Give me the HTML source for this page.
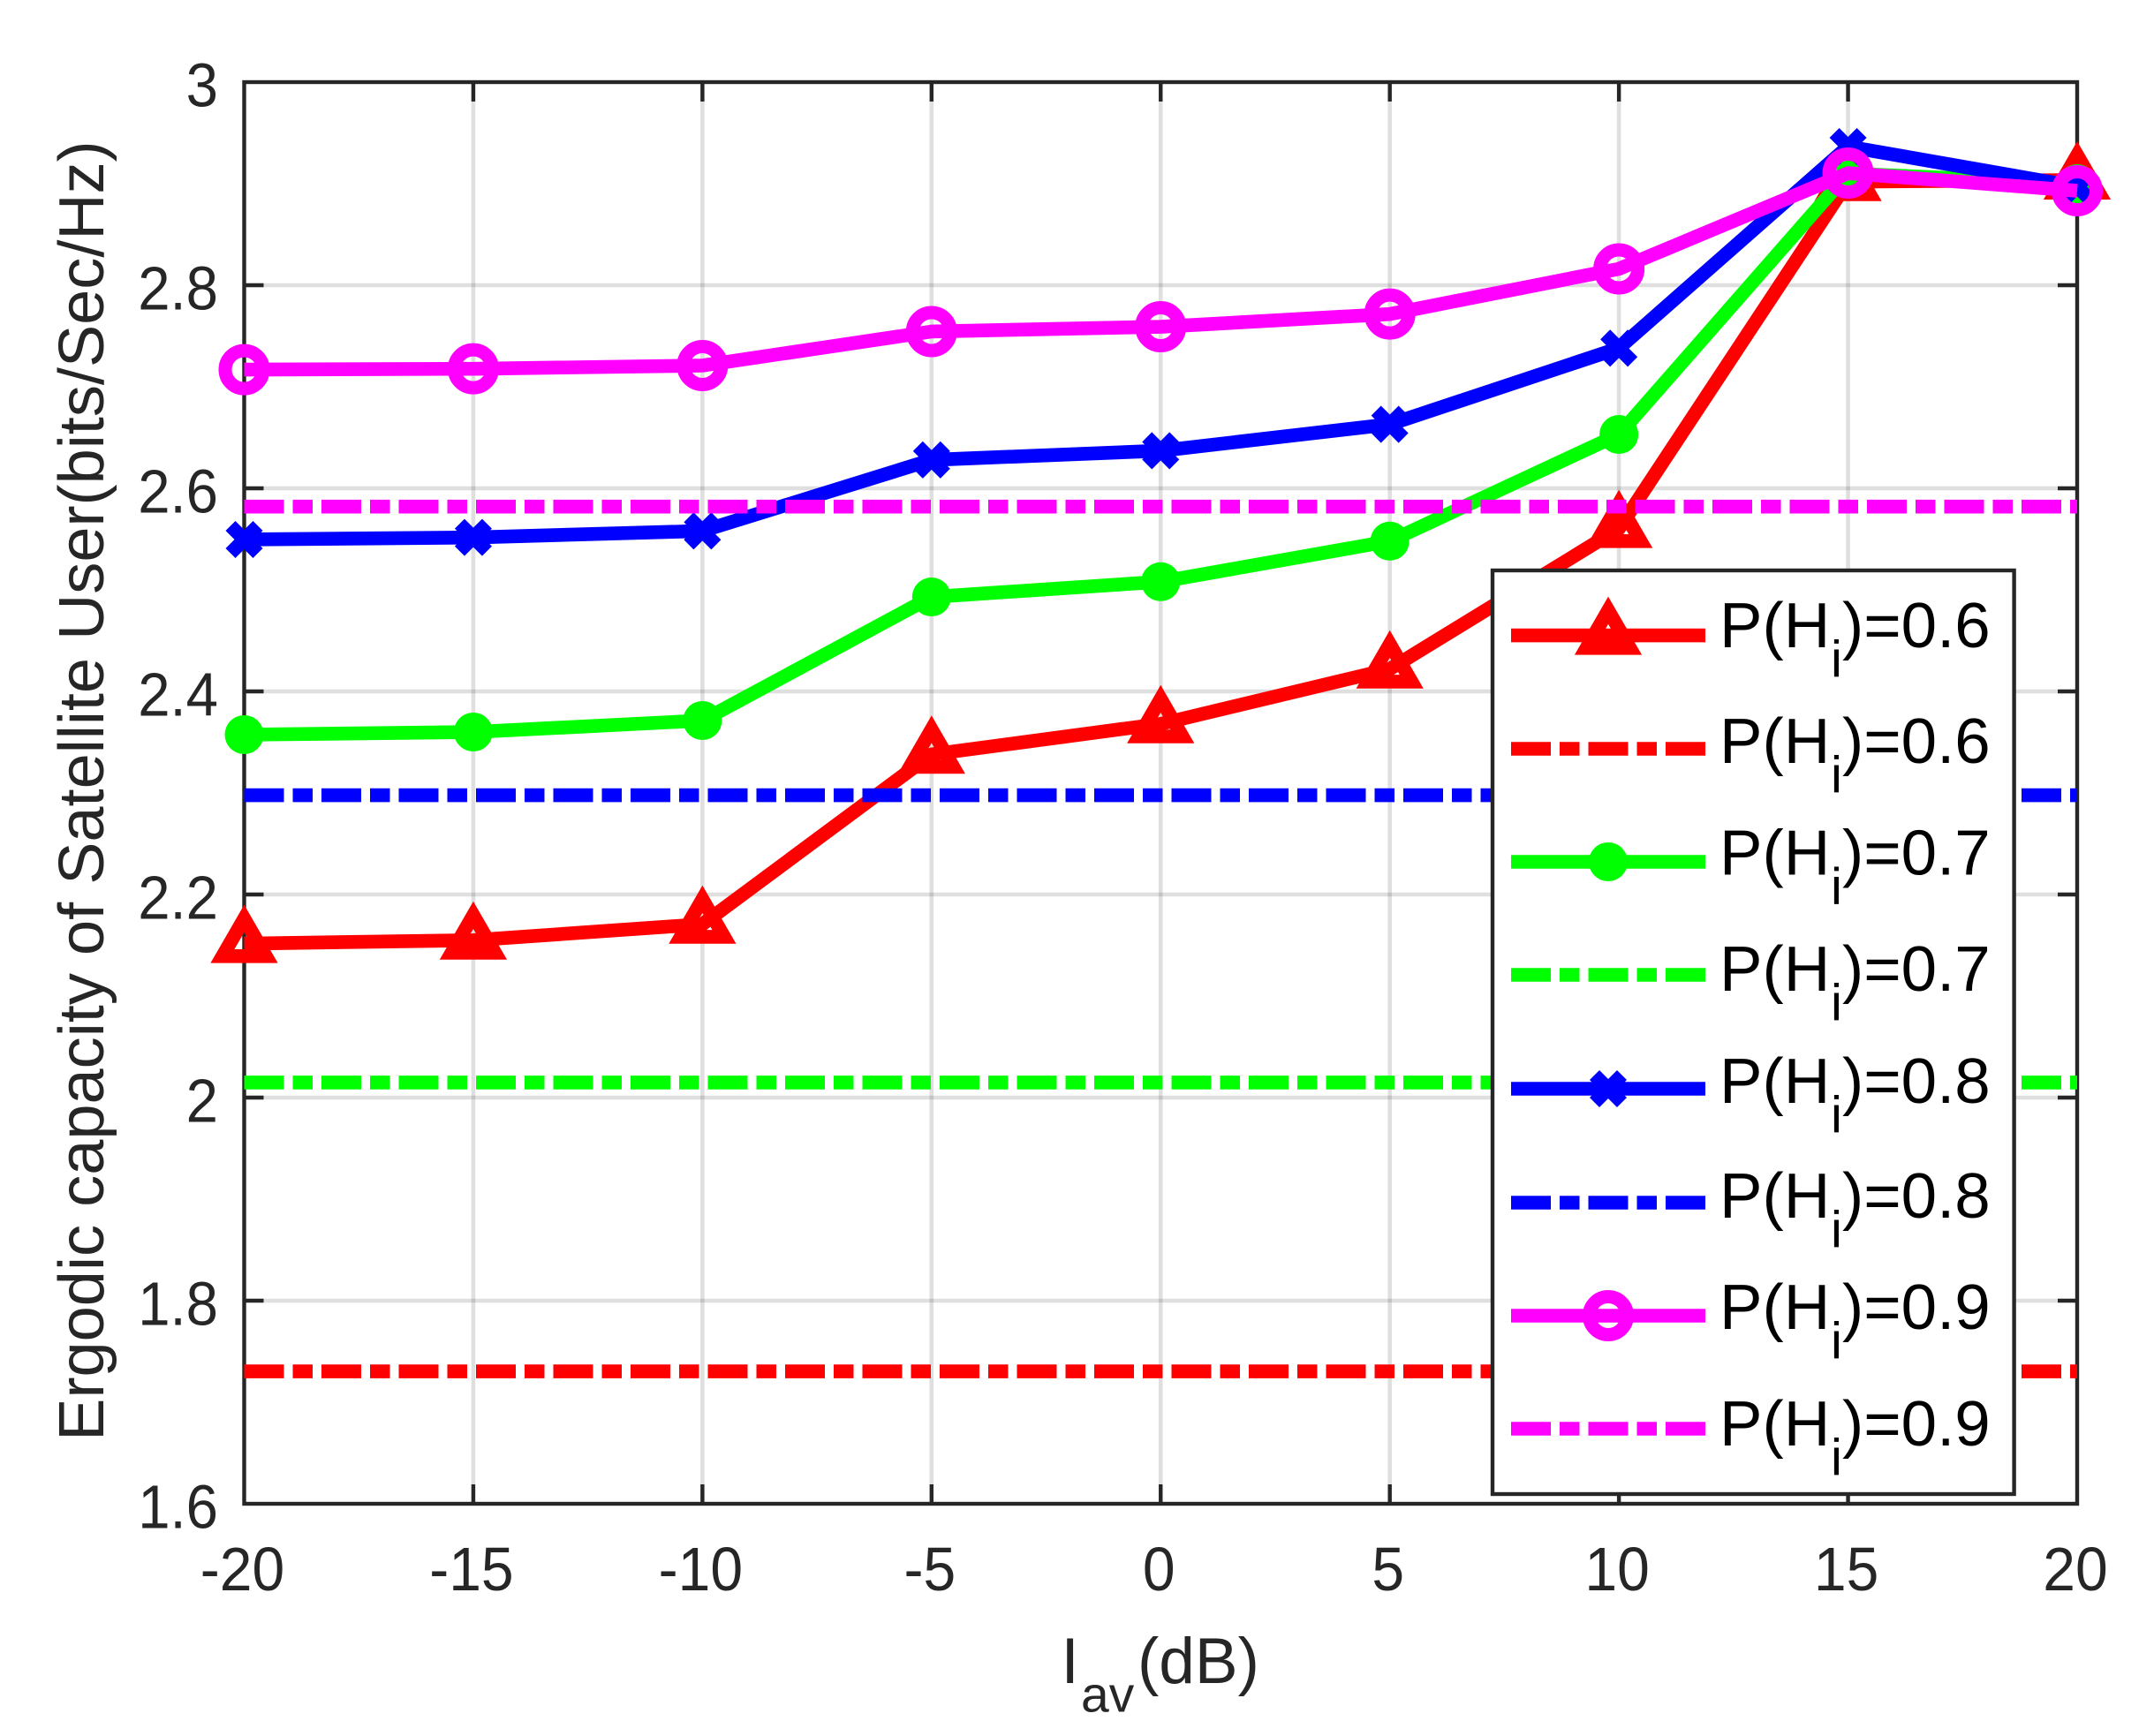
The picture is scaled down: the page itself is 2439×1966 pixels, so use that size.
<!DOCTYPE html>
<html lang="en">
<head>
<meta charset="utf-8">
<title>Ergodic capacity chart</title>
<style>
html,body{margin:0;padding:0;background:#fff;}
svg{display:block;}
text{font-family:"Liberation Sans",Arial,sans-serif;}
.axis-text{fill:#262626;}
.leg-text{fill:#000;font-size:72.7px;}
.leg-sub{font-size:58px;}
</style>
</head>
<body>
<svg id="chart" xmlns="http://www.w3.org/2000/svg" width="2439" height="1966" viewBox="0 0 2439 1966">
  <rect x="0" y="0" width="2439" height="1966" fill="#fff"/>
  <g id="grid"></g>
  <rect x="276.5" y="93" width="2075.5" height="1610" fill="none" stroke="#262626" stroke-width="4.4"/>
  <g id="ticks"></g>
  <g id="tick-labels"></g>
  <text class="axis-text" transform="translate(117,895.5) rotate(-90)" text-anchor="middle" font-size="72.2">Ergodic capacity of Satellite User(bits/Sec/Hz)</text>
  <text class="axis-text" font-size="73" y="1906"><tspan x="1201.5">I</tspan><tspan x="1224" y="1938.7" font-size="57">av</tspan><tspan x="1288" y="1906">(dB)</tspan></text>
  <g id="series"></g>

  <g id="legend">
    <rect x="1690" y="646" width="590.6" height="1046" fill="#fff" stroke="#262626" stroke-width="4.4"/>

    <g>
      <line x1="1711" x2="1931" y1="719.6" y2="719.6" stroke="#f00" stroke-width="15.6"/>
      <polygon points="1821,691.2 1845.6,733.8 1796.4,733.8" fill="none" stroke="#f00" stroke-width="15.6"/>
      <text class="leg-text" y="733"><tspan x="1947">P(H</tspan><tspan class="leg-sub" x="2073" y="766.5">i</tspan><tspan x="2086" y="733">)=0.6</tspan></text>
    </g>
    <g>
      <line x1="1711" x2="1931" y1="848" y2="848" stroke="#f00" stroke-width="15.6" stroke-dasharray="45 10 22.5 10"/>
      <text class="leg-text" y="864"><tspan x="1947">P(H</tspan><tspan class="leg-sub" x="2073" y="897.5">i</tspan><tspan x="2086" y="864">)=0.6</tspan></text>
    </g>
    <g>
      <line x1="1711" x2="1931" y1="976" y2="976" stroke="#0f0" stroke-width="15.6"/>
      <circle cx="1821" cy="976" r="22" fill="#0f0"/>
      <text class="leg-text" y="990.6"><tspan x="1947">P(H</tspan><tspan class="leg-sub" x="2073" y="1024">i</tspan><tspan x="2086" y="990.6">)=0.7</tspan></text>
    </g>
    <g>
      <line x1="1711" x2="1931" y1="1104" y2="1104" stroke="#0f0" stroke-width="15.6" stroke-dasharray="45 10 22.5 10"/>
      <text class="leg-text" y="1122"><tspan x="1947">P(H</tspan><tspan class="leg-sub" x="2073" y="1155.5">i</tspan><tspan x="2086" y="1122">)=0.7</tspan></text>
    </g>
    <g>
      <line x1="1711" x2="1931" y1="1233" y2="1233" stroke="#00f" stroke-width="15.6"/>
      <path d="M1805.5 1217.5L1836.5 1248.5M1836.5 1217.5L1805.5 1248.5" fill="none" stroke="#00f" stroke-width="15.6"/>
      <text class="leg-text" y="1249"><tspan x="1947">P(H</tspan><tspan class="leg-sub" x="2073" y="1282.5">i</tspan><tspan x="2086" y="1249">)=0.8</tspan></text>
    </g>
    <g>
      <line x1="1711" x2="1931" y1="1362" y2="1362" stroke="#00f" stroke-width="15.6" stroke-dasharray="45 10 22.5 10"/>
      <text class="leg-text" y="1379"><tspan x="1947">P(H</tspan><tspan class="leg-sub" x="2073" y="1412.5">i</tspan><tspan x="2086" y="1379">)=0.8</tspan></text>
    </g>
    <g>
      <line x1="1711" x2="1931" y1="1490" y2="1490" stroke="#f0f" stroke-width="15.6"/>
      <circle cx="1821" cy="1490" r="21.5" fill="none" stroke="#f0f" stroke-width="15"/>
      <text class="leg-text" y="1505"><tspan x="1947">P(H</tspan><tspan class="leg-sub" x="2073" y="1538.5">i</tspan><tspan x="2086" y="1505">)=0.9</tspan></text>
    </g>
    <g>
      <line x1="1711" x2="1931" y1="1618" y2="1618" stroke="#f0f" stroke-width="15.6" stroke-dasharray="45 10 22.5 10"/>
      <text class="leg-text" y="1637"><tspan x="1947">P(H</tspan><tspan class="leg-sub" x="2073" y="1670.5">i</tspan><tspan x="2086" y="1637">)=0.9</tspan></text>
    </g>
  </g>
</svg>

<script>
// Chart data
const xCategories = [-20, -15, -10, -5, 0, 5, 10, 15, 20];
const xTickLabels = ["-20", "-15", "-10", "-5", "0", "5", "10", "15", "20"];
const yTickValues = [1.6, 1.8, 2, 2.2, 2.4, 2.6, 2.8, 3];
const yTickLabels = ["1.6", "1.8", "2", "2.2", "2.4", "2.6", "2.8", "3"];
const curveP06 = [2.1516, 2.155, 2.1707, 2.338, 2.368, 2.422, 2.5603, 2.902, 2.9035];
const baselineP06 = [1.7304, 1.7304];
const curveP07 = [2.3574, 2.36, 2.3713, 2.493, 2.508, 2.548, 2.653, 2.91, 2.9];
const baselineP07 = [2.0148, 2.0148];
const curveP08 = [2.5496, 2.5516, 2.558, 2.628, 2.637, 2.663, 2.738, 2.9365, 2.897];
const baselineP08 = [2.2978, 2.2978];
const curveP09 = [2.7169, 2.7177, 2.7209, 2.7544, 2.7591, 2.7716, 2.8161, 2.9104, 2.893];
const baselineP09 = [2.582, 2.582];
const baselineX = [-20, 20];

const SVG_NS = "http://www.w3.org/2000/svg";
const plotLeft = 276.5, plotRight = 2352, plotTop = 93, plotBottom = 1703;
const xMin = -20, xMax = 20, yMin = 1.6, yMax = 3;
const gridColor = "#262626";

function sx(v) { return plotLeft + (v - xMin) / (xMax - xMin) * (plotRight - plotLeft); }
function sy(v) { return plotBottom - (v - yMin) / (yMax - yMin) * (plotBottom - plotTop); }
function make(tag, attrs, parent) {
  const el = document.createElementNS(SVG_NS, tag);
  for (const k in attrs) el.setAttribute(k, attrs[k]);
  parent.appendChild(el);
  return el;
}

const gridGroup = document.getElementById("grid");
const tickGroup = document.getElementById("ticks");
const labelGroup = document.getElementById("tick-labels");
const seriesGroup = document.getElementById("series");
const tickLen = 22;

xCategories.forEach(function (v, i) {
  const x = sx(v);
  if (v !== xMin && v !== xMax) {
    const g = make("line", {x1: x, x2: x, y1: plotTop, y2: plotBottom, stroke: gridColor, "stroke-opacity": 0.15, "stroke-width": 4.6}, gridGroup);
    
    
    const t1 = make("line", {x1: x, x2: x, y1: plotBottom, y2: plotBottom - tickLen, stroke: "#262626", "stroke-width": 4.4}, tickGroup);
    
    
    const t2 = make("line", {x1: x, x2: x, y1: plotTop, y2: plotTop + tickLen, stroke: "#262626", "stroke-width": 4.4}, tickGroup);
    
    
  }
  const lab = make("text", {transform: "translate(" + (x - 2) + ",1801) scale(0.95,1)", "text-anchor": "middle", "font-size": 69.5, class: "axis-text"}, labelGroup);
  lab.textContent = xTickLabels[i];
  
  
});

yTickValues.forEach(function (v, i) {
  const y = sy(v);
  if (v !== yMin && v !== yMax) {
    const g = make("line", {x1: plotLeft, x2: plotRight, y1: y, y2: y, stroke: gridColor, "stroke-opacity": 0.15, "stroke-width": 4.4}, gridGroup);
    
    
    const t1 = make("line", {x1: plotLeft, x2: plotLeft + tickLen, y1: y, y2: y, stroke: "#262626", "stroke-width": 4.4}, tickGroup);
    
    
    const t2 = make("line", {x1: plotRight, x2: plotRight - tickLen, y1: y, y2: y, stroke: "#262626", "stroke-width": 4.4}, tickGroup);
    
    
  }
  const lab = make("text", {transform: "translate(247," + (y + 27.5) + ") scale(0.94,1)", "text-anchor": "end", "font-size": 69.5, class: "axis-text"}, labelGroup);
  lab.textContent = yTickLabels[i];
  
  
});

function drawCurve(values, color, marker, name) {
  const g = make("g", {}, seriesGroup);
  
  
  const pts = values.map(function (v, i) { return sx(xCategories[i]).toFixed(2) + "," + sy(v).toFixed(2); }).join(" ");
  const line = make("polyline", {points: pts, fill: "none", stroke: color, "stroke-width": 15.6, "stroke-linejoin": "round"}, g);
  
  
  values.forEach(function (v, i) {
    const cx = sx(xCategories[i]), cy = sy(v);
    let m;
    if (marker === "triangle") {
      m = make("polygon", {points: cx + "," + (cy - 28.4) + " " + (cx + 24.6) + "," + (cy + 14.2) + " " + (cx - 24.6) + "," + (cy + 14.2), fill: "none", stroke: color, "stroke-width": 15.6}, g);
    } else if (marker === "dot") {
      m = make("circle", {cx: cx, cy: cy, r: 22, fill: color}, g);
    } else if (marker === "cross") {
      const a = 15.5;
      m = make("path", {d: "M" + (cx - a) + " " + (cy - a) + "L" + (cx + a) + " " + (cy + a) + "M" + (cx + a) + " " + (cy - a) + "L" + (cx - a) + " " + (cy + a), fill: "none", stroke: color, "stroke-width": 15.6}, g);
    } else {
      m = make("circle", {cx: cx, cy: cy, r: 21.5, fill: "none", stroke: color, "stroke-width": 15}, g);
    }
    
    
  });
}

function drawBaseline(values, color, name) {
  const pts = values.map(function (v, i) { return sx(baselineX[i]).toFixed(2) + "," + sy(v).toFixed(2); }).join(" ");
  const line = make("polyline", {points: pts, fill: "none", stroke: color, "stroke-width": 15.6, "stroke-dasharray": "45 10 22.5 10"}, seriesGroup);
  
  
}

drawCurve(curveP06, "#f00", "triangle", "series-p06-curve");
drawBaseline(baselineP06, "#f00", "series-p06-baseline");
drawCurve(curveP07, "#0f0", "dot", "series-p07-curve");
drawBaseline(baselineP07, "#0f0", "series-p07-baseline");
drawCurve(curveP08, "#00f", "cross", "series-p08-curve");
drawBaseline(baselineP08, "#00f", "series-p08-baseline");
drawCurve(curveP09, "#f0f", "ring", "series-p09-curve");
drawBaseline(baselineP09, "#f0f", "series-p09-baseline");
</script>
</body>
</html>
